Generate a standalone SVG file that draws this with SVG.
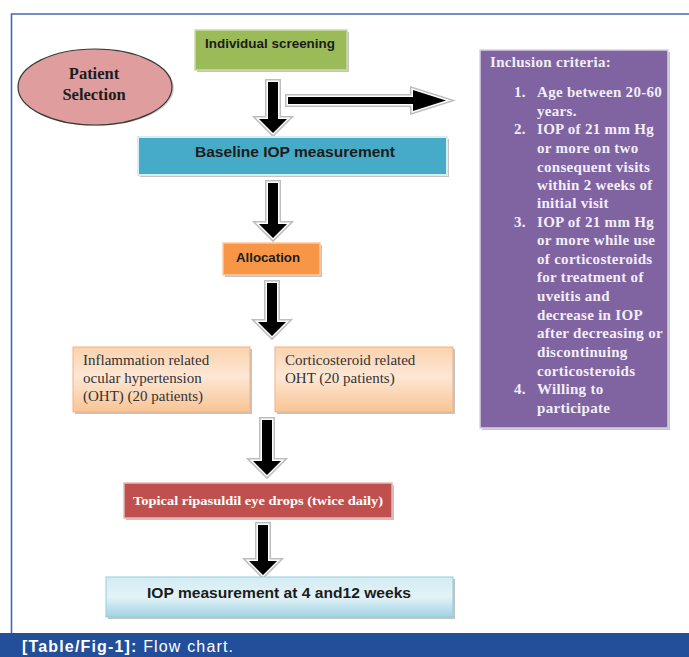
<svg xmlns="http://www.w3.org/2000/svg" xmlns:xlink="http://www.w3.org/1999/xlink" width="689" height="657" viewBox="0 0 689 657">
<defs>
<style>
.sh{fill:#c4c4c4;}
.sans{font-family:"Liberation Sans",Arial,sans-serif;font-weight:bold;fill:#1c1c1c;}
.serifb{font-family:"Liberation Serif","Times New Roman",serif;font-weight:bold;}
.serif{font-family:"Liberation Serif","Times New Roman",serif;fill:#333;font-size:15px;}
.pur{font-family:"Liberation Serif","Times New Roman",serif;font-weight:bold;fill:#f3eef7;font-size:15px;letter-spacing:0.3px;}
.halo{fill:#fff;stroke:#bdbdbd;stroke-width:6;stroke-linejoin:miter;}
.halo2{fill:#fff;stroke:#fff;stroke-width:3;stroke-linejoin:miter;}
.core{fill:#000;stroke:none;}
</style>
<linearGradient id="gOr" x1="0" y1="0" x2="0" y2="1">
<stop offset="0" stop-color="#fbd2ad"/>
<stop offset="0.45" stop-color="#fde7d5"/>
<stop offset="1" stop-color="#f9c494"/>
</linearGradient>
<linearGradient id="gBl" x1="0" y1="0" x2="0" y2="1">
<stop offset="0" stop-color="#d2ecf2"/>
<stop offset="0.5" stop-color="#e3f3f7"/>
<stop offset="1" stop-color="#9fd3e2"/>
</linearGradient>
<polygon id="a1" points="268,82 278,82 278,119 287,119 273,133 259,119 268,119"/>
<polygon id="a2" points="268,183 278,183 278,224 287,224 273,238 259,224 268,224"/>
<polygon id="a3" points="267,283 277,283 277,322 286,322 272,336 258,322 267,322"/>
<polygon id="a4" points="262,420 272,420 272,461 281,461 267,475 253,461 262,461"/>
<polygon id="a5" points="258,525 268,525 268,561 277,561 263,575 249,561 258,561"/>
<polygon id="ah" points="288,97 413,97 413,90 446,100.5 413,111 413,104 288,104"/>
</defs>
<rect x="0" y="0" width="689" height="657" fill="#fff"/>
<g id="frame">
<path d="M11.5,633 L11.5,14 L689,14" fill="none" stroke="#4169b8" stroke-width="1.6"/>
</g>
<g id="connectors">
<use xlink:href="#a1" class="halo"/><use xlink:href="#a1" class="halo2"/><use xlink:href="#a1" class="core"/>
<use xlink:href="#ah" class="halo"/><use xlink:href="#ah" class="halo2"/><use xlink:href="#ah" class="core"/>
<use xlink:href="#a2" class="halo"/><use xlink:href="#a2" class="halo2"/><use xlink:href="#a2" class="core"/>
<use xlink:href="#a3" class="halo"/><use xlink:href="#a3" class="halo2"/><use xlink:href="#a3" class="core"/>
<use xlink:href="#a4" class="halo"/><use xlink:href="#a4" class="halo2"/><use xlink:href="#a4" class="core"/>
<use xlink:href="#a5" class="halo"/><use xlink:href="#a5" class="halo2"/><use xlink:href="#a5" class="core"/>
</g>
<g id="patient-selection">
<ellipse cx="96" cy="88" rx="78" ry="38" fill="#a0a0a0" opacity="0.5"/>
<ellipse cx="95" cy="87" rx="77" ry="38" fill="#e09d9d" stroke="#3a3a3a" stroke-width="1.2"/>
<text class="serifb" x="94" y="79" font-size="16.5" text-anchor="middle" fill="#1c1c1c">Patient</text>
<text class="serifb" x="94" y="100" font-size="16.5" text-anchor="middle" fill="#1c1c1c">Selection</text>
</g>
<g id="individual-screening">
<rect x="197" y="32" width="152" height="40" class="sh"/>
<rect x="195" y="30" width="152" height="40" fill="#9bbb59" stroke="#c9dba5" stroke-width="1.5"/>
<text class="sans" x="205" y="48" font-size="13" textLength="130" lengthAdjust="spacingAndGlyphs">Individual screening</text>
</g>
<g id="baseline-iop">
<rect x="140" y="139" width="309" height="38" class="sh"/>
<rect x="138" y="137" width="309" height="38" fill="#45abc6" stroke="#d6eef4" stroke-width="2"/>
<text class="sans" x="195" y="157" font-size="14" textLength="200" lengthAdjust="spacingAndGlyphs">Baseline IOP measurement</text>
</g>
<g id="allocation">
<rect x="225" y="245" width="97" height="32" class="sh"/>
<rect x="223" y="243" width="97" height="32" fill="#f79646" stroke="#fbc9a0" stroke-width="1.5"/>
<text class="sans" x="236" y="262" font-size="13" textLength="64" lengthAdjust="spacingAndGlyphs">Allocation</text>
</g>
<g id="inflammation-oht">
<rect x="75" y="349" width="177" height="65" class="sh"/>
<rect x="73" y="347" width="177" height="65" fill="url(#gOr)" stroke="#f4b183" stroke-width="1"/>
<text class="serif" x="83" y="365">Inflammation related</text>
<text class="serif" x="83" y="383">ocular hypertension</text>
<text class="serif" x="83" y="401">(OHT) (20 patients)</text>
</g>
<g id="corticosteroid-oht">
<rect x="277" y="349" width="178" height="65" class="sh"/>
<rect x="275" y="347" width="178" height="65" fill="url(#gOr)" stroke="#f4b183" stroke-width="1"/>
<text class="serif" x="285" y="365">Corticosteroid related</text>
<text class="serif" x="285" y="383">OHT (20 patients)</text>
</g>
<g id="topical-ripasudil">
<rect x="126" y="485" width="268" height="35" class="sh"/>
<rect x="124" y="483" width="268" height="35" fill="#c0504d" stroke="#e6b9b8" stroke-width="1.5"/>
<text class="serifb" x="133" y="505" font-size="13" fill="#fff" textLength="250" lengthAdjust="spacingAndGlyphs">Topical ripasuldil eye drops (twice daily)</text>
</g>
<g id="iop-followup">
<rect x="108" y="579" width="347" height="40" class="sh"/>
<rect x="106" y="577" width="347" height="40" fill="url(#gBl)" stroke="#93cddd" stroke-width="1"/>
<text class="sans" x="147" y="598" font-size="15" textLength="264" lengthAdjust="spacingAndGlyphs">IOP measurement at 4 and12 weeks</text>
</g>
<g id="inclusion-criteria">
<rect x="482" y="52" width="188" height="378" class="sh"/>
<rect x="480" y="50" width="188" height="378" fill="#8064a2" stroke="#d9d2e4" stroke-width="1.5"/>
<text class="pur" x="490" y="67">Inclusion criteria:</text>
<text class="pur" x="514" y="97">1.</text>
<text class="pur" x="537" y="97">Age between 20-60</text>
<text class="pur" x="537" y="116">years.</text>
<text class="pur" x="514" y="134">2.</text>
<text class="pur" x="537" y="134">IOP of 21 mm Hg</text>
<text class="pur" x="537" y="153">or more on two</text>
<text class="pur" x="537" y="172">consequent visits</text>
<text class="pur" x="537" y="190">within 2 weeks of</text>
<text class="pur" x="537" y="208">initial visit</text>
<text class="pur" x="514" y="227">3.</text>
<text class="pur" x="537" y="227">IOP of 21 mm Hg</text>
<text class="pur" x="537" y="245">or more while use</text>
<text class="pur" x="537" y="264">of corticosteroids</text>
<text class="pur" x="537" y="282">for treatment of</text>
<text class="pur" x="537" y="301">uveitis and</text>
<text class="pur" x="537" y="320">decrease in IOP</text>
<text class="pur" x="537" y="338">after decreasing or</text>
<text class="pur" x="537" y="357">discontinuing</text>
<text class="pur" x="537" y="376">corticosteroids</text>
<text class="pur" x="514" y="394">4.</text>
<text class="pur" x="537" y="394">Willing to</text>
<text class="pur" x="537" y="413">participate</text>
</g>
<g id="caption">
<rect x="0" y="633" width="689" height="24" fill="#234e9a"/>
<text x="22" y="652" font-family="'Liberation Sans',Arial,sans-serif" font-size="16" fill="#fff" textLength="211"><tspan font-weight="bold">[Table/Fig-1]:</tspan> Flow chart.</text>
</g>
</svg>
